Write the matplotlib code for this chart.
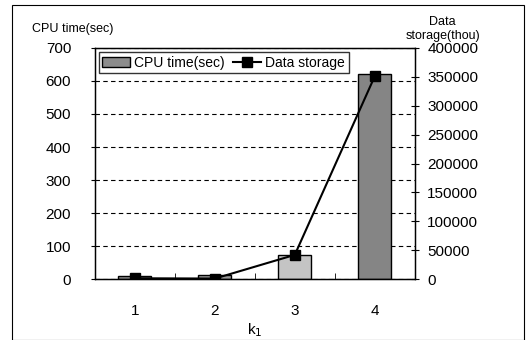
import matplotlib.pyplot as plt
from matplotlib.patches import Rectangle

plt.rcParams['font.family'] = ['Liberation Sans', 'DejaVu Sans']

# data
k1 = [1, 2, 3, 4]
cpu_time = [8, 12, 72, 620]
data_storage = [1500, 1000, 42000, 351000]
bar_colors = ['#8c8c8c', '#9a9a9a', '#c4c4c4', '#858585']

fig = plt.figure(figsize=(5.27, 3.4), dpi=100)
ax = fig.add_axes([0.180, 0.179, 0.607, 0.680])

ax.bar(k1, cpu_time, width=0.41, color=bar_colors, edgecolor='black',
       linewidth=1.0, label='CPU time(sec)', zorder=2)
ax.set_xlim(0.5, 4.5)
ax.set_ylim(0, 700)
ax.set_yticks(range(0, 701, 100))
ax.set_xticks(k1)
ax.set_xticks([1.5, 2.5, 3.5], minor=True)
ax.tick_params(axis='x', which='major', length=0, pad=18, labelsize=11)
ax.tick_params(axis='x', which='minor', direction='in', length=4)
ax.tick_params(axis='y', direction='out', length=3, labelsize=11, pad=14)
ax.yaxis.grid(True, linestyle=(0, (4, 3)), color='black', linewidth=0.8)
ax.set_axisbelow(True)
for s in ax.spines.values():
    s.set_linewidth(1.0)
ax.set_xlabel('k$_1$', fontsize=11, labelpad=2)

ax2 = ax.twinx()
ax2.plot(k1, data_storage, color='black', linewidth=1.5, marker='s',
         markersize=7, label='Data storage', zorder=3)
ax2.set_ylim(0, 400000)
ax2.set_yticks(range(0, 400001, 50000))
ax2.tick_params(axis='y', direction='inout', length=6, labelsize=11, pad=6)

fig.text(0.06, 0.915, 'CPU time(sec)', fontsize=9, ha='left', va='center')
fig.text(0.84, 0.915, 'Data\nstorage(thou)', fontsize=9, ha='center', va='center',
         linespacing=1.3)

h1, l1 = ax.get_legend_handles_labels()
h2, l2 = ax2.get_legend_handles_labels()
leg = ax2.legend(h1 + h2, l1 + l2, loc='upper left', fontsize=10, ncol=2,
                 frameon=True, fancybox=False, edgecolor='black',
                 borderpad=0.25, handlelength=2.0, handletextpad=0.3,
                 columnspacing=0.6, borderaxespad=0.3)
leg.get_frame().set_linewidth(1.0)

fig.patches.append(Rectangle((0.022, 0.0), 0.972, 0.985, transform=fig.transFigure,
                             fill=False, edgecolor='black', linewidth=0.8))

fig.savefig('out.png', dpi=100)
